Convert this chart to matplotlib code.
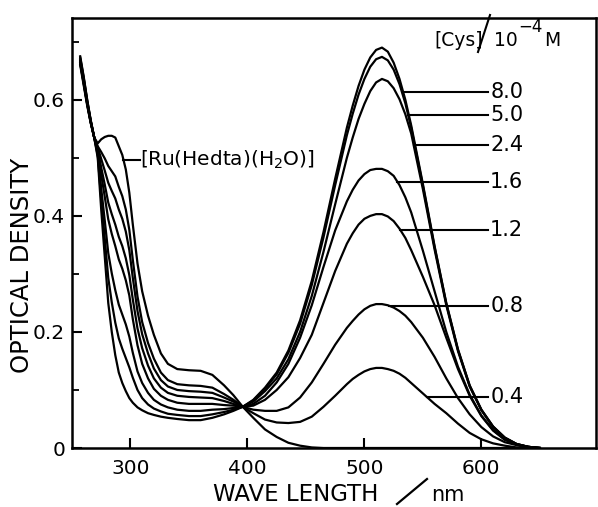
import numpy as np
import matplotlib
matplotlib.use("Agg")
import matplotlib.pyplot as plt
from matplotlib.lines import Line2D

# ---------------- data ----------------
wavelength_nm = [257, 260, 263, 266, 269, 272, 275, 278, 281, 284, 287, 290, 293, 296, 299,
                 302, 306, 310, 315, 320, 326, 332, 340, 350, 360, 370, 380, 388, 396,
                 405, 415, 425, 435, 445, 455, 465, 475, 485, 490, 495, 500, 505, 510, 515,
                 520, 525, 530, 535, 540, 550, 560, 570, 580, 590, 600, 610, 620, 630, 640, 650]

od_ru_h2o = [0.66, 0.625, 0.59, 0.56, 0.535, 0.525, 0.532, 0.536, 0.538, 0.538, 0.535, 0.52, 0.505, 0.48, 0.44,
             0.385, 0.318, 0.27, 0.228, 0.195, 0.163, 0.145, 0.136, 0.134, 0.133, 0.126, 0.108, 0.091, 0.071,
             0.052, 0.032, 0.019, 0.009, 0.004, 0.001, 0, 0, 0, 0, 0, 0, 0, 0, 0,
             0, 0, 0, 0, 0, 0, 0, 0, 0, 0, 0, 0, 0, 0, 0, 0]

od_cys_04 = [0.663, 0.628, 0.592, 0.561, 0.535, 0.52, 0.51, 0.499, 0.486, 0.477, 0.468, 0.45, 0.434, 0.411, 0.376,
             0.324, 0.261, 0.217, 0.181, 0.154, 0.13, 0.117, 0.11, 0.108, 0.107, 0.104, 0.093, 0.083, 0.071,
             0.06, 0.049, 0.044, 0.043, 0.045, 0.054, 0.071, 0.09, 0.11, 0.119, 0.126, 0.132, 0.136, 0.138, 0.138,
             0.136, 0.133, 0.128, 0.121, 0.112, 0.094, 0.076, 0.06, 0.042, 0.026, 0.015, 0.008, 0.004, 0.001, 0, 0]

od_cys_08 = [0.664, 0.629, 0.593, 0.561, 0.535, 0.518, 0.498, 0.478, 0.457, 0.443, 0.43, 0.411, 0.395, 0.373, 0.341,
             0.293, 0.236, 0.196, 0.163, 0.137, 0.117, 0.106, 0.1, 0.098, 0.097, 0.095, 0.087, 0.08, 0.071,
             0.066, 0.064, 0.064, 0.07, 0.087, 0.113, 0.145, 0.178, 0.207, 0.219, 0.23, 0.239, 0.245, 0.248, 0.248,
             0.246, 0.242, 0.236, 0.228, 0.217, 0.19, 0.157, 0.12, 0.086, 0.058, 0.036, 0.02, 0.01, 0.005, 0.001, 0]

od_cys_12 = [0.666, 0.631, 0.594, 0.562, 0.535, 0.515, 0.483, 0.454, 0.423, 0.403, 0.385, 0.364, 0.348, 0.327, 0.298,
             0.256, 0.206, 0.172, 0.142, 0.12, 0.104, 0.095, 0.09, 0.088, 0.087, 0.086, 0.081, 0.076, 0.071,
             0.073, 0.083, 0.1, 0.122, 0.155, 0.195, 0.25, 0.305, 0.352, 0.37, 0.385, 0.395, 0.4, 0.403, 0.403,
             0.399, 0.391, 0.378, 0.362, 0.341, 0.295, 0.246, 0.19, 0.136, 0.09, 0.055, 0.03, 0.014, 0.006, 0.002, 0]

od_cys_16 = [0.668, 0.633, 0.595, 0.563, 0.535, 0.512, 0.471, 0.433, 0.394, 0.369, 0.348, 0.325, 0.309, 0.289, 0.263,
             0.222, 0.177, 0.145, 0.12, 0.102, 0.09, 0.083, 0.078, 0.076, 0.076, 0.076, 0.074, 0.073, 0.071,
             0.076, 0.09, 0.113, 0.145, 0.19, 0.246, 0.312, 0.375, 0.425, 0.445, 0.461, 0.472, 0.479, 0.481, 0.481,
             0.477, 0.469, 0.453, 0.432, 0.406, 0.34, 0.27, 0.2, 0.14, 0.092, 0.056, 0.031, 0.015, 0.006, 0.002, 0]

od_cys_24 = [0.67, 0.636, 0.597, 0.564, 0.535, 0.508, 0.447, 0.392, 0.336, 0.301, 0.272, 0.247, 0.23, 0.213, 0.192,
             0.164, 0.132, 0.112, 0.095, 0.083, 0.075, 0.07, 0.066, 0.064, 0.064, 0.066, 0.067, 0.069, 0.071,
             0.08, 0.098, 0.12, 0.153, 0.2, 0.262, 0.338, 0.42, 0.5, 0.535, 0.567, 0.593, 0.615, 0.63, 0.636,
             0.632, 0.62, 0.601, 0.575, 0.542, 0.446, 0.342, 0.246, 0.167, 0.106, 0.065, 0.036, 0.017, 0.007, 0.002, 0]

od_cys_50 = [0.673, 0.638, 0.599, 0.564, 0.535, 0.504, 0.428, 0.361, 0.293, 0.251, 0.216, 0.189, 0.171, 0.155, 0.139,
             0.121, 0.1, 0.086, 0.075, 0.068, 0.063, 0.059, 0.057, 0.055, 0.055, 0.058, 0.062, 0.066, 0.071,
             0.082, 0.102, 0.127, 0.164, 0.214, 0.281, 0.363, 0.453, 0.539, 0.576, 0.609, 0.636, 0.657, 0.67, 0.674,
             0.668, 0.652, 0.627, 0.594, 0.552, 0.452, 0.346, 0.249, 0.169, 0.107, 0.066, 0.037, 0.018, 0.007, 0.002, 0]

od_cys_80 = [0.675, 0.64, 0.6, 0.565, 0.535, 0.5, 0.41, 0.33, 0.25, 0.2, 0.16, 0.13, 0.112, 0.098, 0.086,
             0.078, 0.07, 0.065, 0.06, 0.057, 0.054, 0.052, 0.05, 0.048, 0.048, 0.052, 0.058, 0.064, 0.071,
             0.083, 0.104, 0.13, 0.168, 0.22, 0.288, 0.372, 0.464, 0.552, 0.59, 0.624, 0.652, 0.673, 0.686, 0.69,
             0.683, 0.664, 0.636, 0.6, 0.556, 0.455, 0.348, 0.25, 0.17, 0.108, 0.066, 0.037, 0.018, 0.007, 0.002, 0]

cys_labels = ["0.4", "0.8", "1.2", "1.6", "2.4", "5.0", "8.0"]
cys_series = [od_cys_04, od_cys_08, od_cys_12, od_cys_16, od_cys_24, od_cys_50, od_cys_80]

x_ticks = [300, 400, 500, 600]
y_ticks = [0, 0.2, 0.4, 0.6]
y_tick_labels = ["0", "0.2", "0.4", "0.6"]
y_minor = [0.1, 0.3, 0.5, 0.7]

# ---------------- layout ----------------
plt.rcParams["font.family"] = ["DejaVu Sans"]
W, H = 598, 507
fig = plt.figure(figsize=(W / 100, H / 100), dpi=100)
ax = fig.add_axes([72 / W, 1 - 448 / H, (596 - 72) / W, (448 - 18) / H])

lam = np.array(wavelength_nm, dtype=float)
LW = 1.6
ax.plot(lam, od_ru_h2o, color="black", lw=LW, solid_joinstyle="round")
for od in cys_series:
    ax.plot(lam, od, color="black", lw=LW, solid_joinstyle="round")

ax.set_xlim(250, 698)
ax.set_ylim(0, 0.741)
ax.set_xticks(x_ticks)
ax.set_xticklabels([str(t) for t in x_ticks])
ax.set_yticks(y_ticks)
ax.set_yticklabels(y_tick_labels)
ax.set_yticks(y_minor, minor=True)
ax.tick_params(which="major", direction="in", length=7, width=1.5, labelsize=14.5)
ax.tick_params(which="minor", direction="in", length=5, width=1.3)
ax.tick_params(axis="x", pad=8)
ax.tick_params(axis="y", pad=5)
for s in ax.spines.values():
    s.set_linewidth(1.8)

# leader lines + concentration labels (level in OD, start on right flank of the visible band)
label_levels = [0.088, 0.245, 0.376, 0.459, 0.522, 0.574, 0.614]
x_end = 606
vis = lam >= 450
for lab, od, lvl in zip(cys_labels, cys_series, label_levels):
    od = np.array(od)
    lv, ov = lam[vis], od[vis]
    ip = int(np.argmax(ov))
    xr, yr = lv[ip:], ov[ip:]
    x0 = float(np.interp(lvl, yr[::-1], xr[::-1]))
    ax.plot([x0, x_end], [lvl, lvl], color="black", lw=1.5)
    ax.text(x_end + 1.5, lvl, lab, fontsize=15, ha="left", va="center")

# [Ru(Hedta)(H2O)] label
u = np.array(od_ru_h2o)
mask = (lam >= 284) & (lam <= 340)
ru_lvl = 0.497
xr0 = float(np.interp(ru_lvl, u[mask][::-1], lam[mask][::-1]))
ax.plot([xr0, 308], [ru_lvl, ru_lvl], color="black", lw=1.5)
ax.text(308.5, ru_lvl, r"[Ru(Hedta)(H$_2$O)]", fontsize=14.5, ha="left", va="center")

# axis labels
fig.text(22 / W, 1 - 265 / H, "OPTICAL DENSITY", rotation=90, fontsize=17.5,
         ha="center", va="center")
fig.text(213 / W, 1 - 501 / H, "WAVE LENGTH", fontsize=16.5, ha="left", va="baseline")
fig.add_artist(Line2D([397 / W, 427 / W], [1 - 504 / H, 1 - 479 / H], color="black", lw=1.6,
                      transform=fig.transFigure))
fig.text(431 / W, 1 - 501 / H, "nm", fontsize=15, ha="left", va="baseline")

# [Cys]/10^-4 M
fig.text(434 / W, 1 - 46 / H, "[Cys]", fontsize=13.5, ha="left", va="baseline")
fig.add_artist(Line2D([478 / W, 490 / W], [1 - 52 / H, 1 - 15 / H], color="black", lw=1.5,
                      transform=fig.transFigure))
fig.text(494 / W, 1 - 46 / H, "10", fontsize=13.5, ha="left", va="baseline")
fig.text(518 / W, 1 - 32 / H, "\u2212" + "4", fontsize=12, ha="left", va="baseline")
fig.text(544 / W, 1 - 46 / H, "M", fontsize=13.5, ha="left", va="baseline")

fig.savefig("out.png", dpi=100)
